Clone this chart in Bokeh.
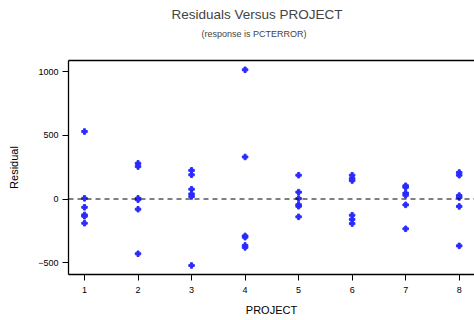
from bokeh.plotting import figure
from bokeh.models import Range1d, FixedTicker, LinearAxis, Span, Title
from bokeh.embed import file_html
from bokeh.resources import INLINE

# data
project = [1]*6 + [2]*6 + [3]*6 + [4]*6 + [5]*6 + [6]*6 + [7]*6 + [8]*6
residual = [
    530, 5, -65, -125, -135, -190,
    280, 255, 5, -5, -80, -430,
    225, 190, 77, 40, 20, -522,
    1015, 330, -290, -300, -365, -380,
    187, 54, 4, -45, -57, -140,
    187, 160, 145, -127, -160, -193,
    104, 92, 46, 30, -46, -234,
    208, 187, 27, 12, -58, -368,
]
x_ticks = [1, 2, 3, 4, 5, 6, 7, 8]
y_ticks = [-500, 0, 500, 1000]

FONT = "Liberation Sans"

p = figure(width=474, height=320, output_backend="svg", toolbar_location=None,
           x_range=Range1d(0.701, 8.286), y_range=Range1d(-593, 1088),
           min_border_left=68, min_border_right=0, min_border_top=60, min_border_bottom=46)
p.outline_line_color = None
p.grid.visible = False
p.background_fill_color = "white"
p.border_fill_color = "white"

p.scatter(project, residual, marker="plus", size=5.5, color="#2a2aff")

p.add_layout(Span(location=0, dimension="width", line_color="black",
                  line_dash="5 4", line_width=1))

for ax in (p.xaxis[0], p.yaxis[0]):
    ax.axis_line_color = "black"
    ax.axis_line_width = 1.3
    ax.major_tick_line_color = "black"
    ax.major_tick_in = 0
    ax.major_tick_out = 6
    ax.minor_tick_line_color = None
    ax.major_label_text_font = FONT
    ax.major_label_text_font_size = "9px"
    ax.major_label_text_color = "black"
    ax.axis_label_text_font = FONT
    ax.axis_label_text_font_size = "11px"
    ax.axis_label_text_font_style = "normal"
    ax.axis_label_text_color = "black"

p.xaxis[0].ticker = FixedTicker(ticks=x_ticks)
p.yaxis[0].ticker = FixedTicker(ticks=y_ticks)
p.xaxis[0].axis_label = "PROJECT"
p.yaxis[0].axis_label = "Residual"
p.xaxis[0].major_label_standoff = 6
p.xaxis[0].axis_label_standoff = 8
p.yaxis[0].major_label_standoff = 4
p.yaxis[0].axis_label_standoff = 15

top = LinearAxis(major_tick_line_color=None, minor_tick_line_color=None,
                 major_label_text_font_size="0px", axis_line_color="black",
                 axis_line_width=1.3, ticker=FixedTicker(ticks=[]))
p.add_layout(top, "above")

# spacer between frame and subtitle
p.add_layout(Title(text=" ", text_font_size="1px", standoff=13), "above")
p.add_layout(Title(text="(response is PCTERROR)", align="left", offset=133,
                   text_font=FONT, text_font_size="9px", text_font_style="normal",
                   standoff=12), "above")
p.add_layout(Title(text="Residuals Versus PROJECT", align="left", offset=103,
                   text_font=FONT, text_font_size="13.5px", text_font_style="normal",
                   standoff=-3), "above")

open("out.html", "w").write(file_html(p, INLINE))
